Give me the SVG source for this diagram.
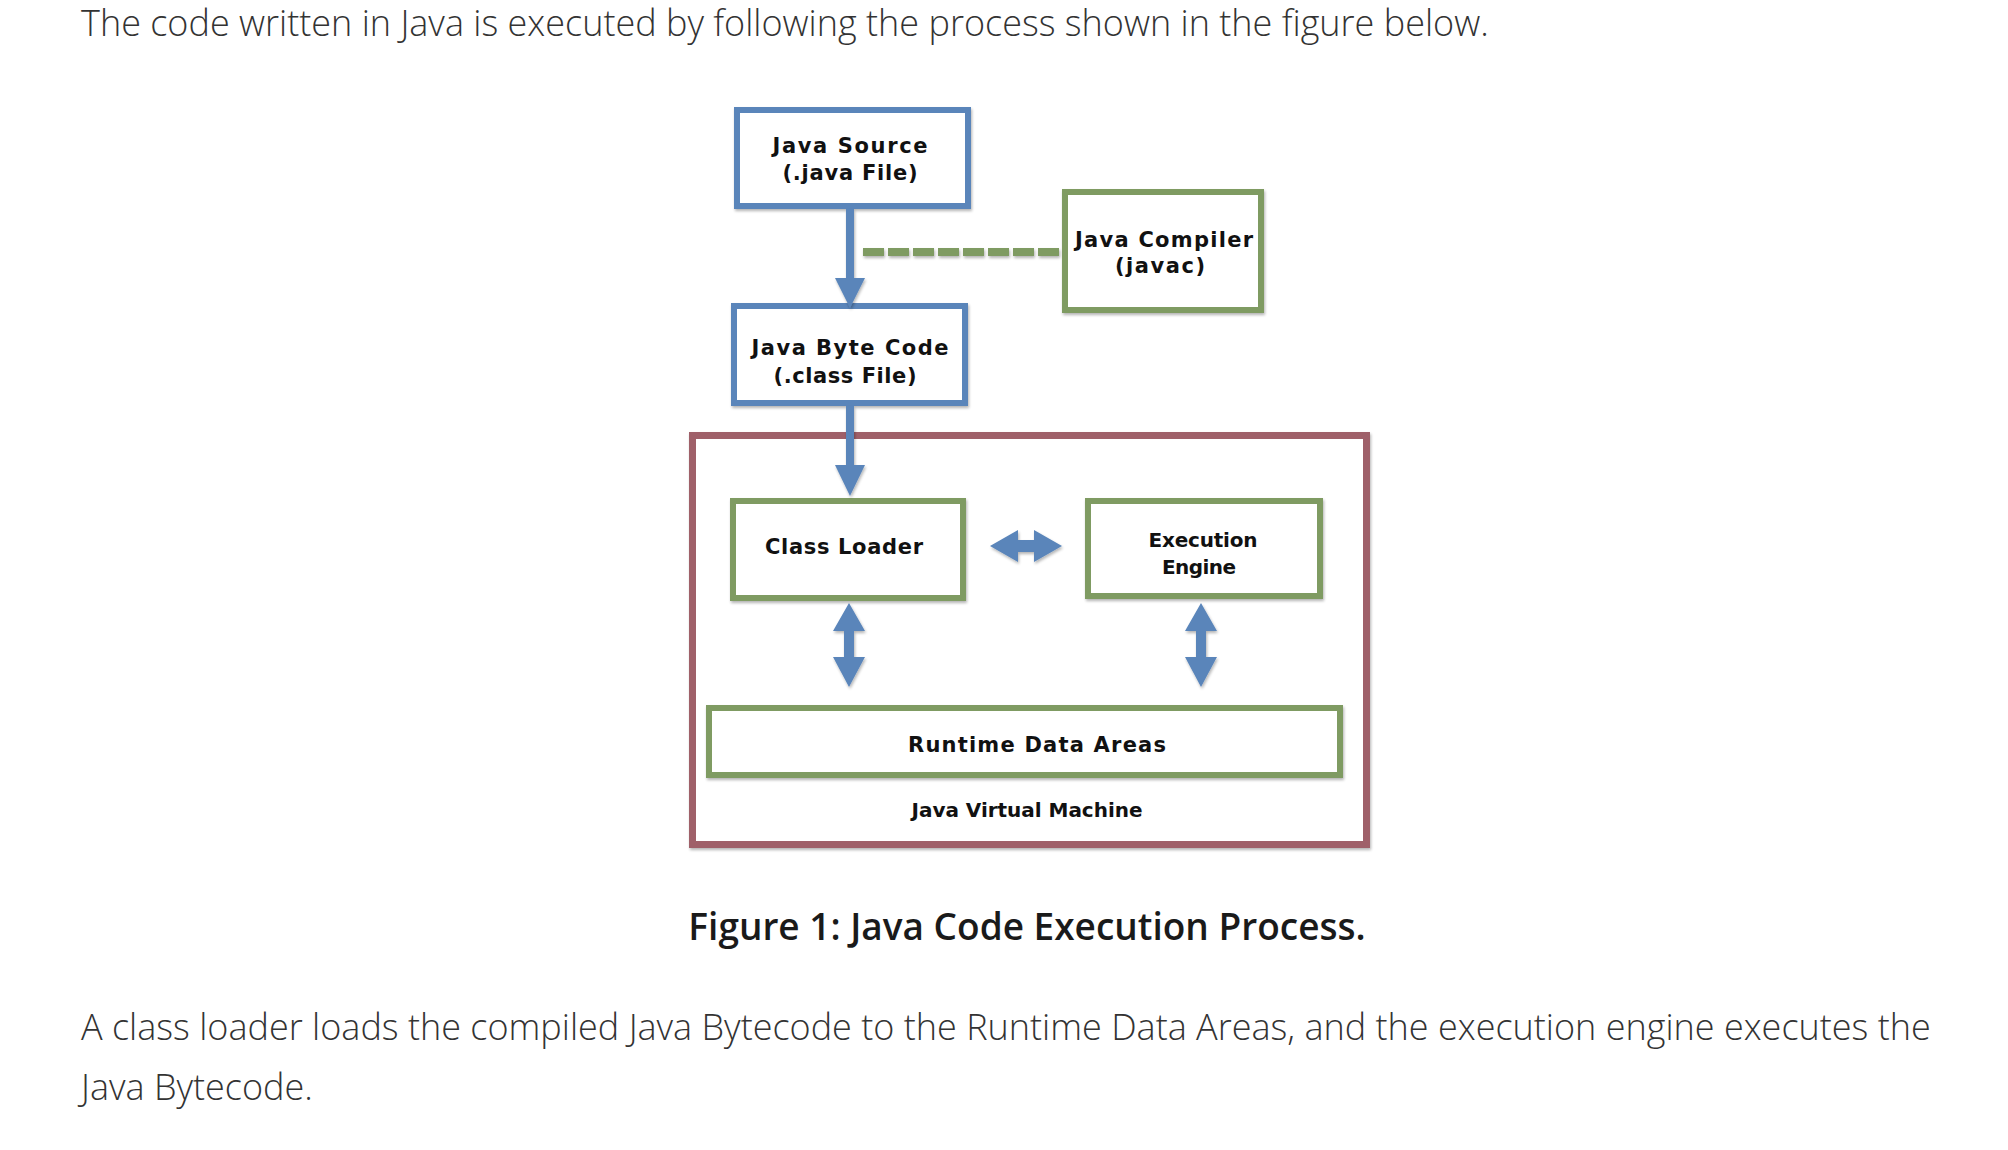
<svg xmlns="http://www.w3.org/2000/svg" width="2008" height="1150" viewBox="0 0 2008 1150">
<style>
.bg{fill:#ffffff}
.blue{fill:#ffffff;stroke:#5A85BA;stroke-width:6}
.green{fill:#ffffff;stroke:#7F9B62;stroke-width:6}
.jvm{fill:#ffffff;stroke:#9F6169;stroke-width:7}
.lbl{font-family:"DejaVu Sans","Verdana",sans-serif;font-weight:bold;font-size:21px;fill:#111111;text-anchor:middle}
.lbs{font-family:"DejaVu Sans","Verdana",sans-serif;font-weight:bold;font-size:20px;fill:#111111;text-anchor:middle}
.body{font-family:"Open Sans","Liberation Sans",sans-serif;font-weight:300;font-size:36px;fill:#333333}
.cap{font-family:"Open Sans","Liberation Sans",sans-serif;font-weight:600;font-size:37px;fill:#1a1a1a;text-anchor:middle}
.arrow{fill:#5A85BA}
.shaft{stroke:#5A85BA;stroke-width:8;fill:none}
.dash{stroke:#7F9B62;stroke-width:8;fill:none;stroke-dasharray:21 4}
</style>
<defs>
<filter id="sh" x="-20%" y="-20%" width="140%" height="140%">
<feGaussianBlur in="SourceAlpha" stdDeviation="1.5"/>
<feOffset dx="1" dy="2" result="b"/>
<feComponentTransfer><feFuncA type="linear" slope="0.3"/></feComponentTransfer>
<feMerge><feMergeNode/><feMergeNode in="SourceGraphic"/></feMerge>
</filter>
</defs>
<rect class="bg" x="0" y="0" width="2008" height="1150"/>
<text class="body" x="81" y="36">The code written in Java is executed by following the process shown in the figure below.</text>

<g id="jvm">
<rect class="jvm" x="692.5" y="435.5" width="674" height="409" filter="url(#sh)"/>
<text class="lbs" x="1027" y="817" textLength="231" lengthAdjust="spacing">Java Virtual Machine</text>
</g>
<g id="java-source">
<rect class="blue" x="737" y="110" width="231" height="96" filter="url(#sh)"/>
<text class="lbl" x="850" y="153" textLength="155" lengthAdjust="spacing">Java Source</text>
<text class="lbl" x="850" y="180" textLength="135" lengthAdjust="spacing">(.java File)</text>
</g>
<g id="java-compiler">
<rect class="green" x="1065" y="192" width="196" height="118" filter="url(#sh)"/>
<text class="lbl" x="1164" y="247" textLength="178" lengthAdjust="spacing">Java Compiler</text>
<text class="lbl" x="1160" y="273" textLength="90" lengthAdjust="spacing">(javac)</text>
</g>
<g id="java-byte-code">
<rect class="blue" x="734" y="306" width="231" height="97" filter="url(#sh)"/>
<text class="lbl" x="850" y="355" textLength="197" lengthAdjust="spacing">Java Byte Code</text>
<text class="lbl" x="845" y="383" textLength="143" lengthAdjust="spacing">(.class File)</text>
</g>
<g id="class-loader">
<rect class="green" x="733" y="501" width="230" height="97" filter="url(#sh)"/>
<text class="lbl" x="844" y="554" textLength="158" lengthAdjust="spacing">Class Loader</text>
</g>
<g id="execution-engine">
<rect class="green" x="1088" y="501" width="232" height="95" filter="url(#sh)"/>
<text class="lbs" x="1203" y="547" textLength="109" lengthAdjust="spacing">Execution</text>
<text class="lbs" x="1199" y="574" textLength="74" lengthAdjust="spacing">Engine</text>
</g>
<g id="runtime-data-areas">
<rect class="green" x="709" y="708" width="631" height="67" filter="url(#sh)"/>
<text class="lbl" x="1037" y="752" textLength="258" lengthAdjust="spacing">Runtime Data Areas</text>
</g>

<g id="connectors" filter="url(#sh)">
<line class="dash" x1="863" y1="252" x2="1062" y2="252"/>
<line class="shaft" x1="850" y1="209" x2="850" y2="282"/>
<polygon class="arrow" points="835,278 865,278 850,308"/>
<line class="shaft" x1="850" y1="406" x2="850" y2="468"/>
<polygon class="arrow" points="835,465 865,465 850,496"/>
<polygon class="arrow" points="990,546 1018,530 1018,540 1034,540 1034,530 1062,546 1034,562 1034,552 1018,552 1018,562"/>
<polygon class="arrow" points="849,603 865,631 854,631 854,657 865,657 849,687 833,657 844,657 844,631 833,631"/>
<polygon class="arrow" points="1201,603 1217,631 1206,631 1206,657 1217,657 1201,687 1185,657 1196,657 1196,631 1185,631"/>
</g>

<text class="cap" x="1027" y="940">Figure 1: Java Code Execution Process.</text>
<text class="body" x="81" y="1040">A class loader loads the compiled Java Bytecode to the Runtime Data Areas, and the execution engine executes the</text>
<text class="body" x="81" y="1100">Java Bytecode.</text>
</svg>
